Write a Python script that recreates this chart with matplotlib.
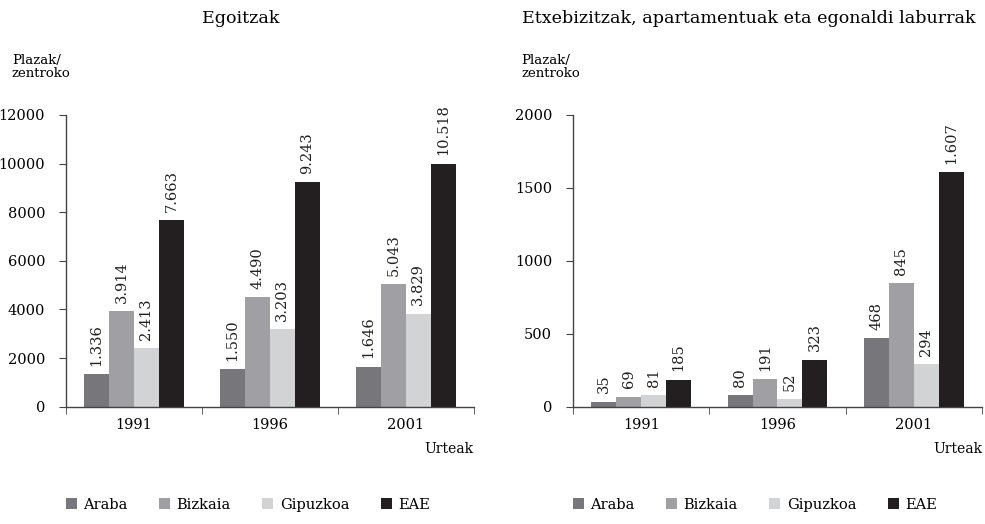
import numpy as np
import matplotlib
matplotlib.use("Agg")
import matplotlib.pyplot as plt
from matplotlib.patches import Patch

# Datuak
urteak = ["1991", "1996", "2001"]
lurraldeak = ["Araba", "Bizkaia", "Gipuzkoa", "EAE"]
koloreak = ["#77777b", "#a0a0a4", "#d2d3d5", "#231f20"]

# Egoitzak (etiketak)
egoitzak = {
    "Araba": [1336, 1550, 1646],
    "Bizkaia": [3914, 4490, 5043],
    "Gipuzkoa": [2413, 3203, 3829],
    "EAE": [7663, 9243, 10518],
}
# irudian marraztutako barra-altuerak (2001 EAE barra 10000an geratzen da)
egoitzak_altuera = {
    "Araba": [1336, 1550, 1646],
    "Bizkaia": [3914, 4490, 5043],
    "Gipuzkoa": [2413, 3203, 3829],
    "EAE": [7663, 9243, 10000],
}

# Etxebizitzak, apartamentuak eta egonaldi laburrak
etxebizitzak = {
    "Araba": [35, 80, 468],
    "Bizkaia": [69, 191, 845],
    "Gipuzkoa": [81, 52, 294],
    "EAE": [185, 323, 1607],
}

plt.rcParams["font.family"] = ["DejaVu Serif"]
plt.rcParams["font.size"] = 10

fig = plt.figure(figsize=(9.85, 5.24), dpi=100)
ax1 = fig.add_axes([0.067, 0.224, 0.414, 0.5566])
ax2 = fig.add_axes([0.5817, 0.224, 0.4152, 0.5566])


def marraztu(ax, balioak, altuerak, ymax, yticks, izenburua, izen_x, plazak_x):
    x = np.arange(len(urteak))
    w = 0.183
    for i, (lur, kol) in enumerate(zip(lurraldeak, koloreak)):
        pos = x + (i - 1.5) * w
        ax.bar(pos, altuerak[lur], width=w, color=kol, edgecolor="none")
        for p, h, v in zip(pos, altuerak[lur], balioak[lur]):
            testua = f"{v:,}".replace(",", ".")
            ax.text(p, h + ymax * 0.028, testua, rotation=90, ha="center",
                    va="bottom", fontsize=10.5, color="#231f20")
    ax.set_xlim(-0.5, 2.5)
    ax.set_ylim(0, ymax)
    ax.set_yticks(yticks)
    ax.set_xticks(x)
    ax.set_xticklabels(urteak, fontsize=10.5)
    ax.set_xticks([-0.5, 0.5, 1.5, 2.5], minor=True)
    ax.tick_params(axis="x", which="major", length=0, pad=8)
    ax.tick_params(axis="x", which="minor", length=5, direction="out", color="#444")
    ax.tick_params(axis="y", length=5, direction="out", color="#444",
                   labelsize=10.5, pad=10)
    for s in ["top", "right"]:
        ax.spines[s].set_visible(False)
    for s in ["left", "bottom"]:
        ax.spines[s].set_color("#444")
        ax.spines[s].set_linewidth(1.0)
    ax.text(1.0, -0.145, "Urteak", transform=ax.transAxes, ha="right",
            va="center", fontsize=10)
    fig.text(izen_x, 0.965, izenburua, ha="center", va="center", fontsize=12.6)
    fig.text(plazak_x, 0.872, "Plazak/\nzentroko", ha="left", va="center",
             fontsize=9.5, linespacing=1.0)
    eskuak = [Patch(facecolor=k, edgecolor="none") for k in koloreak]
    ax.legend(eskuak, lurraldeak, ncol=4, frameon=False, loc="center left",
              bbox_to_anchor=(0.0, -0.337), handlelength=0.75, handleheight=0.75,
              handletextpad=0.45, columnspacing=2.15, fontsize=10.5,
              borderaxespad=0, borderpad=0)


marraztu(ax1, egoitzak, egoitzak_altuera, 12000,
         [0, 2000, 4000, 6000, 8000, 10000, 12000], "Egoitzak", 0.244, 0.012)
marraztu(ax2, etxebizitzak, etxebizitzak, 2000, [0, 500, 1000, 1500, 2000],
         "Etxebizitzak, apartamentuak eta egonaldi laburrak", 0.76, 0.529)

fig.savefig("out.png", dpi=100)
